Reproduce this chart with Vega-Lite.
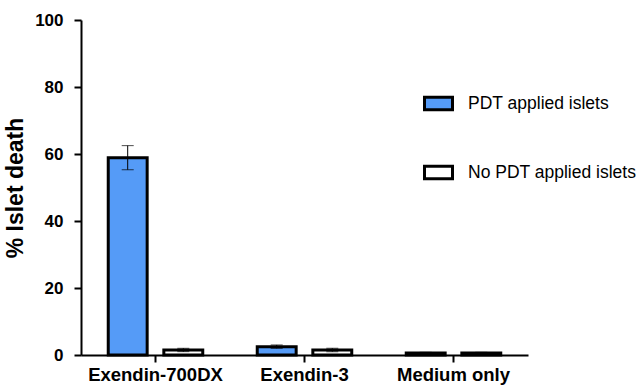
{
  "$schema": "https://vega.github.io/schema/vega-lite/v6.json",
  "width": 447,
  "height": 335,
  "autosize": {"type": "none"},
  "padding": {"left": 81, "top": 20, "right": 113, "bottom": 32},
  "background": "white",
  "config": {
    "view": {"stroke": null},
    "font": "Liberation Sans"
  },
  "data": {
    "values": [
      {"group": "Exendin-700DX", "cond": "PDT applied islets", "value": 58.9, "lo": 55.3, "hi": 62.5},
      {"group": "Exendin-700DX", "cond": "No PDT applied islets", "value": 1.5, "lo": 1.0, "hi": 2.0},
      {"group": "Exendin-3", "cond": "PDT applied islets", "value": 2.5, "lo": 2.0, "hi": 3.0},
      {"group": "Exendin-3", "cond": "No PDT applied islets", "value": 1.5, "lo": 1.0, "hi": 2.0},
      {"group": "Medium only", "cond": "PDT applied islets", "value": 0.6, "lo": 0.4, "hi": 0.8},
      {"group": "Medium only", "cond": "No PDT applied islets", "value": 0.6, "lo": 0.4, "hi": 0.8}
    ]
  },
  "encoding": {
    "x": {
      "field": "group",
      "type": "nominal",
      "sort": ["Exendin-700DX", "Exendin-3", "Medium only"],
      "scale": {"paddingInner": 0, "paddingOuter": 0},
      "axis": {
        "title": null,
        "labelAngle": 0,
        "labelFontWeight": "bold",
        "labelFontSize": 18.5,
        "labelColor": "black",
        "labelPadding": 3,
        "domainColor": "black",
        "domainWidth": 2,
        "tickColor": "black",
        "tickWidth": 2,
        "tickSize": 7
      }
    },
    "xOffset": {
      "field": "cond",
      "type": "nominal",
      "sort": ["PDT applied islets", "No PDT applied islets"],
      "scale": {"paddingInner": 0.3, "paddingOuter": 0.49}
    }
  },
  "layer": [
    {
      "mark": {"type": "bar", "stroke": "black", "strokeWidth": 3},
      "encoding": {
        "y": {
          "field": "value",
          "type": "quantitative",
          "scale": {"domain": [0, 100]},
          "axis": {
            "title": "% Islet death",
            "titleFontSize": 23,
            "titleFontWeight": "bold",
            "titleColor": "black",
            "titlePadding": 7,
            "values": [0, 20, 40, 60, 80, 100],
            "grid": false,
            "labelFontWeight": "bold",
            "labelFontSize": 17,
            "labelColor": "black",
            "labelPadding": 11,
            "domainColor": "black",
            "domainWidth": 2,
            "tickColor": "black",
            "tickWidth": 2,
            "tickSize": 7
          }
        },
        "fill": {
          "field": "cond",
          "type": "nominal",
          "sort": ["PDT applied islets", "No PDT applied islets"],
          "scale": {"domain": ["PDT applied islets", "No PDT applied islets"], "range": ["#559bf7", "white"]},
          "legend": {
            "title": null,
            "orient": "none",
            "legendX": 342,
            "legendY": 68,
            "symbolType": "M-1,-0.45H1V0.45H-1Z",
            "symbolSize": 784,
            "symbolStrokeColor": "black",
            "symbolStrokeWidth": 3,
            "labelFontSize": 17.5,
            "labelColor": "black",
            "labelOffset": 14,
            "labelLimit": 300,
            "rowPadding": 41,
            "symbolOpacity": 1
          }
        }
      }
    },
    {
      "mark": {"type": "rule", "color": "black", "strokeWidth": 1},
      "encoding": {
        "y": {"field": "lo", "type": "quantitative"},
        "y2": {"field": "hi"}
      }
    },
    {
      "mark": {"type": "tick", "color": "black", "thickness": 1, "size": 12},
      "encoding": {"y": {"field": "hi", "type": "quantitative"}}
    },
    {
      "mark": {"type": "tick", "color": "black", "thickness": 1, "size": 12},
      "encoding": {"y": {"field": "lo", "type": "quantitative"}}
    }
  ]
}
